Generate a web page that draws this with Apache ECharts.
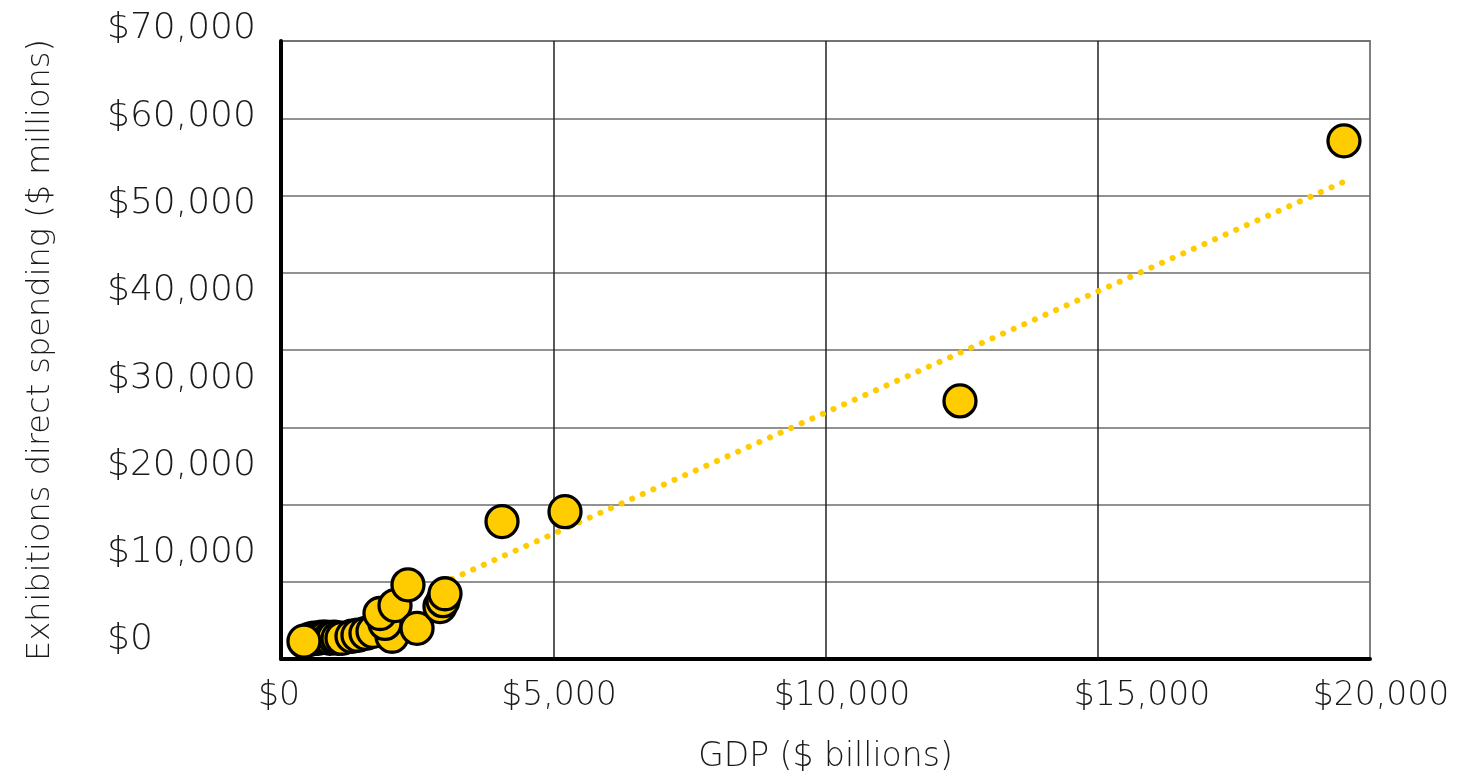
<!DOCTYPE html>
<html>
<head>
<meta charset="utf-8">
<script src="https://cdn.jsdelivr.net/npm/echarts@6/dist/echarts.min.js"></script>
<style>
  html, body { margin: 0; padding: 0; background: #fff; overflow: hidden; }
  #chart { width: 1471px; height: 779px; }
</style>
</head>
<body>
<div id="chart"></div>
<script>
// ---- Data ----
const gdp = [533, 606, 680, 753, 826, 900, 973, 1047, 1120, 1304, 1414, 1561, 1690, 2039, 1910, 1818, 2094, 2332, 2498, 2920, 2975, 3012, 4059, 5216, 12470, 19522, 422];
const spending = [2240, 2352, 2352, 2464, 2464, 2352, 2464, 2352, 2352, 2576, 2688, 2912, 3136, 2576, 4032, 5152, 6048, 8400, 3472, 5936, 6608, 7392, 15568, 16688, 29232, 58688, 2016];
const trendX = [3140, 19540];
const trendY = [9070, 54100];
const xTickLabels = ['$0', '$5,000', '$10,000', '$15,000', '$20,000'];
const yTickLabels = ['$0', '$10,000', '$20,000', '$30,000', '$40,000', '$50,000', '$60,000', '$70,000'];
const xTitle = 'GDP ($ billions)';
const yTitle = 'Exhibitions direct spending ($ millions)';

// ---- Layout constants (label placement on the label-only axis) ----
const xLabelAt = [-37, 5105, 10303, 15813, 20202];

const FONT = '"DejaVu Sans", sans-serif';
const FW = 200;
const FS = 36;
const TXT = '#1a1a1a';
const YELLOW = '#FFCC00';

const chart = echarts.init(document.getElementById('chart'), null, { renderer: 'canvas', width: 1471, height: 779 });

const option = {
  backgroundColor: '#ffffff',
  animation: false,
  grid: [
    { left: 281, top: 41, width: 1089, height: 625, show: true, borderColor: '#808080', borderWidth: 2, backgroundColor: 'transparent' },
    { left: 281, top: 29, width: 10, height: 611 },
    { left: 240, width: 1220, top: 600, height: 66 }
  ],
  xAxis: [
    {
      type: 'value', gridIndex: 0, min: 0, max: 20000, interval: 5000,
      name: xTitle, nameLocation: 'middle', nameGap: 82,
      nameTextStyle: { fontFamily: FONT, fontSize: FS - 3, fontWeight: FW, color: TXT },
      axisLine: { show: true, onZero: false, lineStyle: { color: '#000', width: 4 } },
      axisTick: { show: false },
      axisLabel: { show: false },
      splitLine: { show: true, showMaxLine: false, lineStyle: { color: '#222', width: 1.5 } }
    },
    { type: 'value', gridIndex: 1, show: false, min: 0, max: 1 },
    {
      type: 'value', gridIndex: 2, min: -753, max: 21652,
      axisLine: { show: false }, axisTick: { show: false }, splitLine: { show: false },
      axisLabel: {
        show: true, customValues: xLabelAt, margin: 14,
        fontFamily: FONT, fontSize: FS - 3, fontWeight: FW, color: TXT,
        showMinLabel: true, showMaxLabel: true,
        formatter: function (v) {
          let best = 0, d = Infinity;
          xLabelAt.forEach(function (p, i) { if (Math.abs(p - v) < d) { d = Math.abs(p - v); best = i; } });
          return xTickLabels[best];
        }
      }
    }
  ],
  yAxis: [
    {
      type: 'value', gridIndex: 0, min: 0, max: 70000, interval: 8750,
      name: yTitle, nameLocation: 'middle', nameGap: 224, nameRotate: 90,
      nameTextStyle: { fontFamily: FONT, fontSize: FS - 4, fontWeight: FW, color: TXT },
      axisLine: { show: true, onZero: false, lineStyle: { color: '#000', width: 4 } },
      axisTick: { show: false },
      axisLabel: { show: false },
      splitLine: { show: true, lineStyle: { color: '#6e6e6e', width: 1.5 } }
    },
    {
      type: 'value', gridIndex: 1, min: 0, max: 70000, interval: 10000,
      axisLine: { show: false }, axisTick: { show: false }, splitLine: { show: false },
      axisLabel: {
        show: true, align: 'left', margin: 174,
        fontFamily: FONT, fontSize: FS, fontWeight: FW, color: TXT,
        formatter: function (v) { return yTickLabels[Math.round(v / 10000)]; }
      }
    },
    { type: 'value', gridIndex: 2, show: false, min: 0, max: 1 }
  ],
  series: [
    {
      type: 'line', xAxisIndex: 0, yAxisIndex: 0,
      data: trendX.map(function (x, i) { return [x, trendY[i]]; }),
      showSymbol: false, symbol: 'none', silent: true, z: 2,
      lineStyle: { color: YELLOW, width: 6, type: [0.1, 11.5], cap: 'round' }
    },
    {
      type: 'scatter', xAxisIndex: 0, yAxisIndex: 0,
      data: gdp.map(function (x, i) { return [x, spending[i]]; }),
      symbol: 'circle', symbolSize: 32, z: 3,
      itemStyle: { color: YELLOW, borderColor: '#000', borderWidth: 3.3, opacity: 1 }
    }
  ]
};
chart.setOption(option);
</script>
</body>
</html>
